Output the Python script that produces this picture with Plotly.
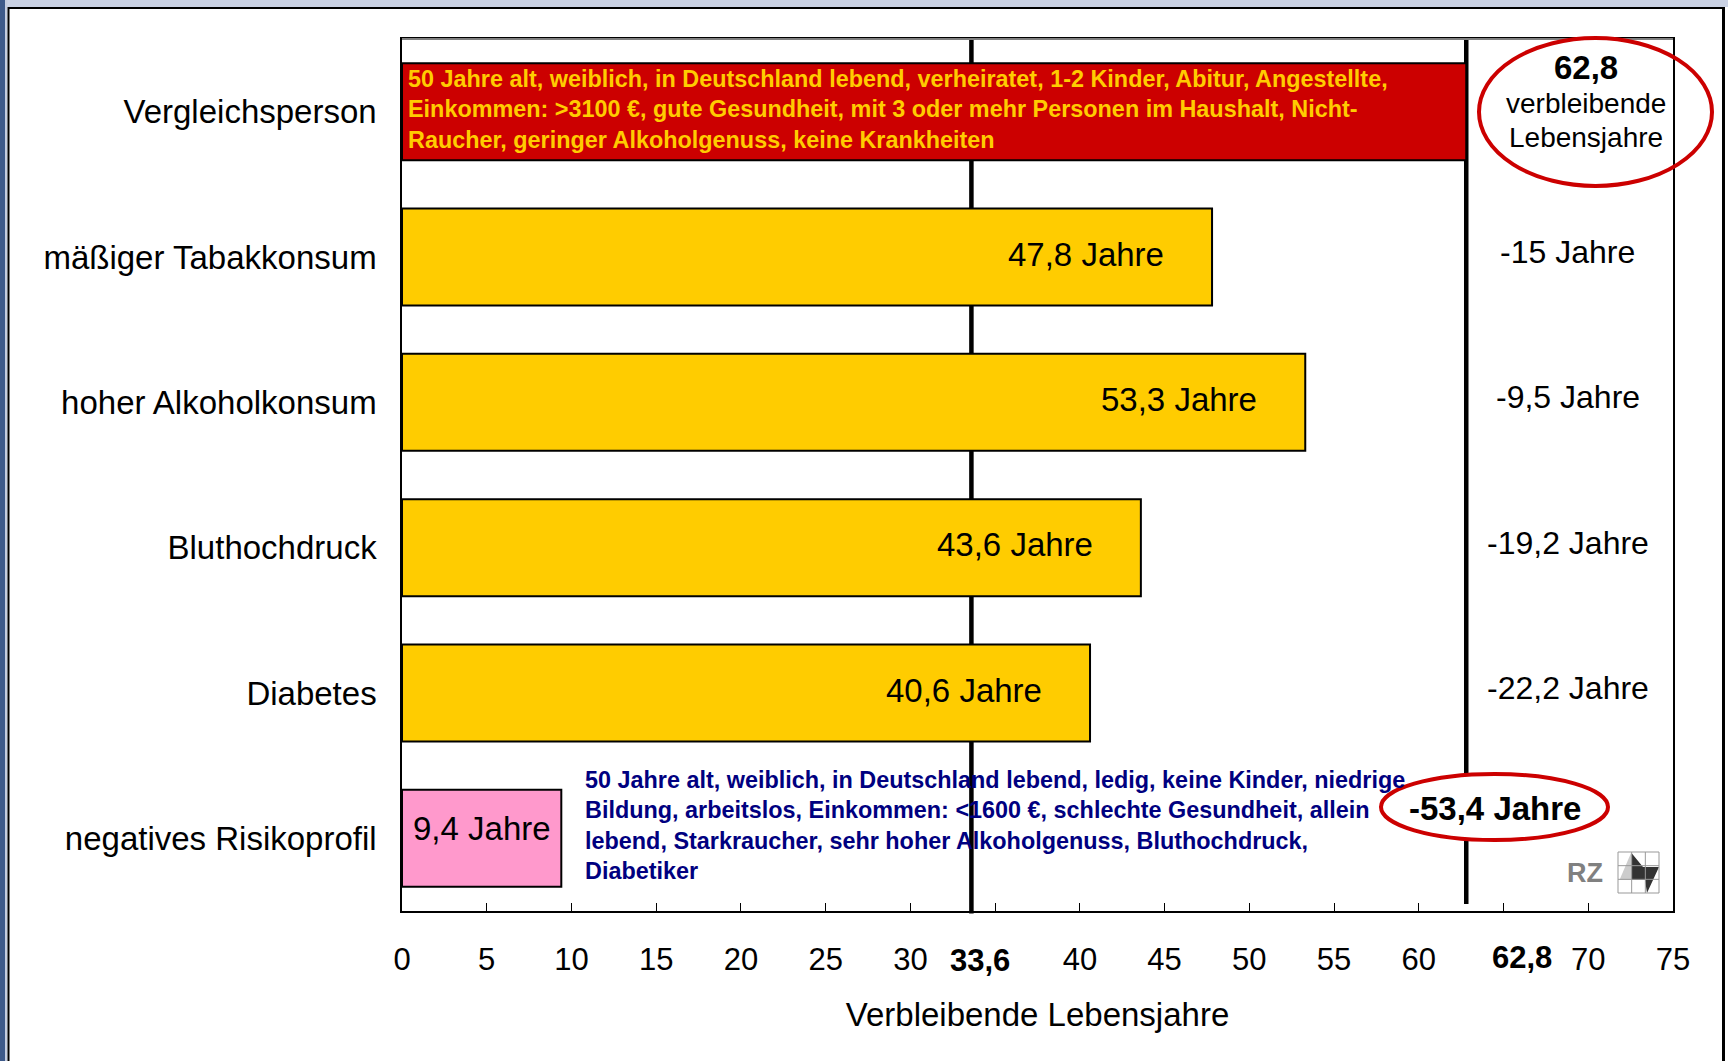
import plotly.graph_objects as go

# ---------------- data ----------------
kategorien = [
    "Vergleichsperson",
    "mäßiger Tabakkonsum",
    "hoher Alkoholkonsum",
    "Bluthochdruck",
    "Diabetes",
    "negatives Risikoprofil",
]
jahre = [62.8, 47.8, 53.3, 43.6, 40.6, 9.4]
mittelwert_linie = 33.6
tick_werte = [0, 5, 10, 15, 20, 25, 30, 40, 45, 50, 55, 60, 70, 75]
zusatz_ticks = [35, 65]
text_vergleich = ("50 Jahre alt, weiblich, in Deutschland lebend, verheiratet, 1-2 Kinder, Abitur, Angestellte,<br>"
                  "Einkommen: >3100 €, gute Gesundheit, mit 3 oder mehr Personen im Haushalt, Nicht-<br>"
                  "Raucher, geringer Alkoholgenuss, keine Krankheiten")
text_negativ = ("50 Jahre alt, weiblich, in Deutschland lebend, ledig, keine Kinder, niedrige<br>"
                "Bildung, arbeitslos, Einkommen: <1600 €, schlechte Gesundheit, allein<br>"
                "lebend, Starkraucher, sehr hoher Alkoholgenuss, Bluthochdruck,<br>"
                "Diabetiker")

# ---------------- style ----------------
farben = ["#CC0000", "#FFCC00", "#FFCC00", "#FFCC00", "#FFCC00", "#FF99CC"]
FONT = "Liberation Sans, Arial, Helvetica, sans-serif"
W, H = 1728, 1061
PL, PR, PT, PB = 402, 1673, 39, 911


def px_x(x):
    return (x - PL) / (PR - PL)


def px_y(y):
    return (PB - y) / (PB - PT)


def de(v):
    s = f"{v:.1f}".replace(".", ",")
    if s.endswith(",0"):
        s = s[:-2]
    return s


referenz = jahre[0]
tick_texte = [de(v) for v in tick_werte]

fig = go.Figure()
fig.add_trace(go.Bar(
    y=kategorien, x=jahre, orientation="h", width=0.667,
    marker=dict(color=farben, line=dict(color="black", width=2)),
    hoverinfo="skip", showlegend=False,
))

shapes = []


def rect(x0, y0, x1, y1, color, layer="above"):
    shapes.append(dict(type="rect", xref="paper", yref="paper",
                       x0=px_x(x0), x1=px_x(x1), y0=px_y(y1), y1=px_y(y0),
                       fillcolor=color, line=dict(width=0), layer=layer))


# slide frame
rect(0, 0, W, 7, "#CAD2E4")
rect(0, 0, 5, H, "#3E5A8A")
rect(5, 0, 7.5, H, "#C5CDE0")
rect(7.5, 7, 9.5, H, "#000000")
rect(8, 7, 1724, 9, "#000000")
rect(1722, 7, 1725, H, "#000000")

# reference lines
shapes.append(dict(type="line", xref="x", yref="paper", x0=mittelwert_linie, x1=mittelwert_linie,
                   y0=-0.003, y1=1, line=dict(color="black", width=4.5), layer="below"))
shapes.append(dict(type="line", xref="x", yref="paper", x0=referenz, x1=referenz,
                   y0=px_y(904), y1=1, line=dict(color="black", width=4.5), layer="below"))

# top plot border (grey)
shapes.append(dict(type="line", xref="paper", yref="paper", x0=0, x1=1, y0=1, y1=1,
                   line=dict(color="#808080", width=2), layer="above"))

# ellipses
shapes.append(dict(type="circle", xref="paper", yref="paper",
                   x0=px_x(1479), x1=px_x(1712), y0=px_y(186), y1=px_y(38),
                   line=dict(color="#CC0000", width=4), fillcolor="rgba(0,0,0,0)", layer="above"))
shapes.append(dict(type="circle", xref="paper", yref="paper",
                   x0=px_x(1381), x1=px_x(1608), y0=px_y(840), y1=px_y(774),
                   line=dict(color="#CC0000", width=4), fillcolor="white", layer="above"))

# RZ logo
lx0, lx1, ly0, ly1 = 1618, 1659, 852, 893
shapes.append(dict(type="path", xref="paper", yref="paper",
                   path=f"M{px_x(1631)},{px_y(853)} L{px_x(1619.5)},{px_y(880)} L{px_x(1631)},{px_y(880)} Z",
                   fillcolor="#CCCCCC", line=dict(width=0), layer="above"))
shapes.append(dict(type="path", xref="paper", yref="paper",
                   path=(f"M{px_x(1631.5)},{px_y(853)} L{px_x(1643)},{px_y(867)} L{px_x(1659)},{px_y(867)} "
                         f"L{px_x(1647)},{px_y(893)} L{px_x(1645)},{px_y(880)} L{px_x(1631.5)},{px_y(880)} Z"),
                   fillcolor="#333333", line=dict(width=0), layer="above"))
for i in range(4):
    gx = lx0 + (lx1 - lx0) * i / 3
    gy = ly0 + (ly1 - ly0) * i / 3
    shapes.append(dict(type="line", xref="paper", yref="paper", x0=px_x(gx), x1=px_x(gx),
                       y0=px_y(ly1), y1=px_y(ly0), line=dict(color="#999999", width=1), layer="above"))
    shapes.append(dict(type="line", xref="paper", yref="paper", x0=px_x(lx0), x1=px_x(lx1),
                       y0=px_y(gy), y1=px_y(gy), line=dict(color="#999999", width=1), layer="above"))

annotations = []
# value labels
for i in range(1, 5):
    annotations.append(dict(x=jahre[i], y=kategorien[i], xref="x", yref="y", text=f"{de(jahre[i])} Jahre",
                            showarrow=False, xanchor="right", yanchor="middle", xshift=-46, yshift=3,
                            font=dict(family=FONT, size=33, color="black")))
annotations.append(dict(x=jahre[5] / 2, y=kategorien[5], xref="x", yref="y", text=f"{de(jahre[5])} Jahre",
                        showarrow=False, xanchor="center", yanchor="middle", yshift=10,
                        font=dict(family=FONT, size=33, color="black")))
# differences
for i in range(1, 5):
    d = jahre[i] - referenz
    annotations.append(dict(x=68.8, y=kategorien[i], xref="x", yref="y", text=f"{de(d)} Jahre",
                            showarrow=False, xanchor="center", yanchor="middle", yshift=5,
                            font=dict(family=FONT, size=32, color="black")))
annotations.append(dict(x=px_x(1495), y=kategorien[5], xref="paper", yref="y",
                        text=f"<b>{de(jahre[5] - referenz)} Jahre</b>",
                        showarrow=False, xanchor="center", yanchor="middle", yshift=30,
                        font=dict(family=FONT, size=33, color="black")))
# ellipse text
annotations.append(dict(x=px_x(1586), y=px_y(67), xref="paper", yref="paper", text=f"<b>{de(referenz)}</b>",
                        showarrow=False, xanchor="center", yanchor="middle",
                        font=dict(family=FONT, size=33, color="black")))
annotations.append(dict(x=px_x(1586), y=px_y(103), xref="paper", yref="paper", text="verbleibende",
                        showarrow=False, xanchor="center", yanchor="middle",
                        font=dict(family=FONT, size=28, color="black")))
annotations.append(dict(x=px_x(1586), y=px_y(137), xref="paper", yref="paper", text="Lebensjahre",
                        showarrow=False, xanchor="center", yanchor="middle",
                        font=dict(family=FONT, size=28, color="black")))
# bold axis labels for the two reference values
annotations.append(dict(x=mittelwert_linie, y=px_y(960), xref="x", yref="paper", text=f"<b>{de(mittelwert_linie)}</b>",
                        showarrow=False, xanchor="center", yanchor="middle", xshift=9,
                        font=dict(family=FONT, size=31, color="black")))
annotations.append(dict(x=referenz, y=px_y(958), xref="x", yref="paper", text=f"<b>{de(referenz)}</b>",
                        showarrow=False, xanchor="center", yanchor="middle", xshift=56,
                        font=dict(family=FONT, size=31, color="black")))
# descriptions
annotations.append(dict(x=0, y=kategorien[0], xref="x", yref="y", text=f"<b>{text_vergleich}</b>",
                        showarrow=False, xanchor="left", yanchor="middle", xshift=4, yshift=2, align="left",
                        font=dict(family=FONT, size=23.4, color="#FFCC00")))
annotations.append(dict(x=jahre[5], y=kategorien[5], xref="x", yref="y", text=f"<b>{text_negativ}</b>",
                        showarrow=False, xanchor="left", yanchor="middle", xshift=22, yshift=13, align="left",
                        font=dict(family=FONT, size=23.4, color="#000080")))
annotations.append(dict(x=px_x(1585), y=px_y(873), xref="paper", yref="paper", text="<b>RZ</b>",
                        showarrow=False, xanchor="center", yanchor="middle",
                        font=dict(family=FONT, size=27, color="#808080")))

fig.update_layout(
    width=W, height=H,
    margin=dict(l=PL, r=W - PR, t=PT, b=H - PB, pad=0),
    paper_bgcolor="white", plot_bgcolor="white",
    font=dict(family=FONT, color="black"),
    shapes=shapes, annotations=annotations,
    xaxis=dict(
        range=[0, 75], tickmode="array", tickvals=tick_werte, ticktext=tick_texte, tickangle=0,
        ticks="inside", ticklen=8, tickcolor="black", tickwidth=1,
        minor=dict(tickmode="array", tickvals=zusatz_ticks, ticks="inside", ticklen=8, tickcolor="black", tickwidth=1),
        showline=True, linecolor="black", linewidth=1.5, mirror=True,
        showgrid=False, zeroline=False,
        tickfont=dict(family=FONT, size=31, color="black"),
        ticklabelstandoff=20,
        title=dict(text="Verbleibende Lebensjahre", font=dict(family=FONT, size=33, color="black"), standoff=27),
    ),
    yaxis=dict(
        type="category", range=[5.5, -0.5],
        showline=True, linecolor="black", linewidth=1.5, mirror=True,
        showgrid=False, zeroline=False, ticks="",
        tickfont=dict(family=FONT, size=33, color="black"),
        ticklabelstandoff=17,
    ),
)

fig.write_html("out.html", config={"displayModeBar": False},
               post_script="document.body.style.margin='0';")
